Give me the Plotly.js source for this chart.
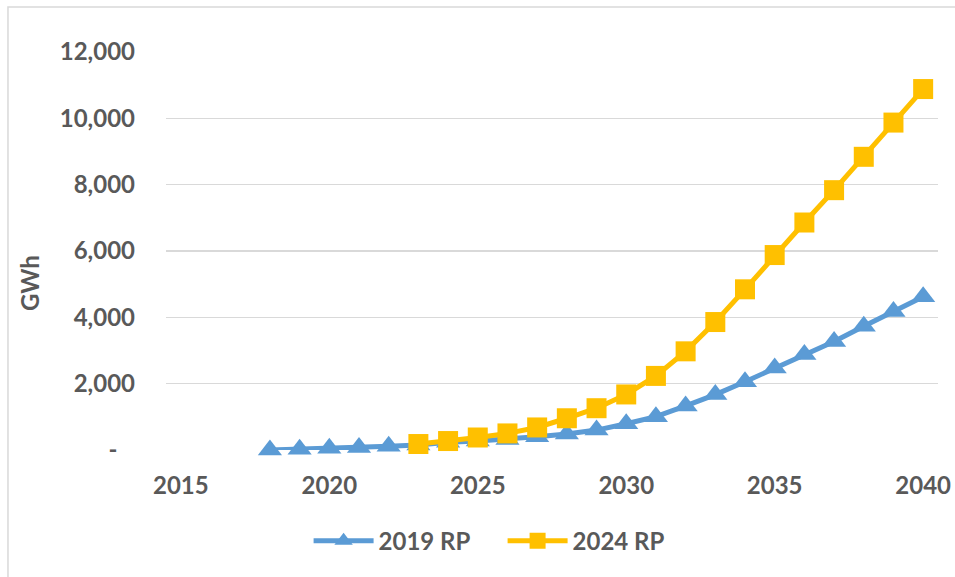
<!DOCTYPE html>
<html>
<head>
<meta charset="utf-8">
<script src="https://cdn.plot.ly/plotly-3.0.1.min.js"></script>
<style>
  html, body { margin: 0; padding: 0; background: #ffffff; }
  #chart { width: 955px; height: 577px; }
</style>
</head>
<body>
<div id="chart"></div>
<script>
// Annual energy (GWh) by year for the two resource plans
const years2019 = [2018, 2019, 2020, 2021, 2022, 2023, 2024, 2025, 2026, 2027, 2028,
                   2029, 2030, 2031, 2032, 2033, 2034, 2035, 2036, 2037, 2038, 2039, 2040];
const gwh2019 = [0, 20, 50, 75, 110, 150, 230, 270, 320, 400, 480,
                 600, 790, 1005, 1330, 1670, 2060, 2470, 2880, 3270, 3730, 4175, 4620];

const years2024 = [2023, 2024, 2025, 2026, 2027, 2028, 2029, 2030, 2031, 2032,
                   2033, 2034, 2035, 2036, 2037, 2038, 2039, 2040];
const gwh2024 = [180, 270, 377, 500, 680, 957, 1260, 1675, 2234, 2975,
                 3858, 4845, 5878, 6859, 7834, 8840, 9872, 10883];

const seriesNames = ['2019 RP', '2024 RP'];

const xTicks = [2015, 2020, 2025, 2030, 2035, 2040];
const yTicks = [0, 2000, 4000, 6000, 8000, 10000, 12000];
const yTickText = ['-\u00A0\u00A0\u00A0', '2,000', '4,000', '6,000', '8,000', '10,000', '12,000'];

const textColor = '#595959';
const fontFamily = 'Lato, "Open Sans", "Liberation Sans", sans-serif';

const traces = [
  {
    x: years2019, y: gwh2019, name: seriesNames[0],
    type: 'scatter', mode: 'lines+markers',
    line: { color: '#5B9BD5', width: 5 },
    marker: { symbol: 'triangle-up', size: 21, color: '#5B9BD5' },
    cliponaxis: false
  },
  {
    x: years2024, y: gwh2024, name: seriesNames[1],
    type: 'scatter', mode: 'lines+markers',
    line: { color: '#FFC000', width: 5 },
    marker: { symbol: 'square', size: 20, color: '#FFC000' },
    cliponaxis: false
  }
];

const layout = {
  width: 955, height: 577,
  margin: { l: 166, r: 17, t: 52, b: 127 },
  paper_bgcolor: '#ffffff', plot_bgcolor: '#ffffff',
  font: { family: fontFamily, color: textColor, size: 24, weight: 'bold' },
  showlegend: true,
  hovermode: false,
  xaxis: {
    range: [2014.5, 2040.5],
    tickvals: xTicks,
    ticktext: xTicks.map(String),
    showgrid: false, zeroline: false, showline: false,
    ticks: '', ticklabelstandoff: 19,
    tickfont: { family: fontFamily, size: 24, color: textColor, weight: 'bold' }
  },
  yaxis: {
    range: [0, 12000],
    tickvals: yTicks,
    ticktext: yTickText,
    showgrid: true, gridcolor: '#D9D9D9', gridwidth: 1.6,
    zeroline: false, showline: false,
    ticks: '', ticklabelstandoff: 30,
    tickfont: { family: fontFamily, size: 24, color: textColor, weight: 'bold' }
  },
  legend: {
    orientation: 'h',
    x: 0.436, xanchor: 'center',
    y: -0.229, yanchor: 'middle',
    itemwidth: 60,
    entrywidth: 119, entrywidthmode: 'pixels',
    font: { family: fontFamily, size: 24, color: textColor, weight: 'bold' },
    bgcolor: 'rgba(0,0,0,0)'
  },
  annotations: [
    {
      text: 'GWh', textangle: -90,
      xref: 'paper', yref: 'paper',
      x: -0.176, y: 0.42, xanchor: 'center', yanchor: 'middle',
      showarrow: false,
      font: { family: fontFamily, size: 24, color: textColor, weight: 'bold' }
    }
  ],
  shapes: [
    {
      type: 'rect', xref: 'paper', yref: 'paper',
      x0: -0.2047, x1: 1.05, y0: -0.4, y1: 1.113,
      line: { color: '#D9D9D9', width: 1.5 },
      fillcolor: 'rgba(0,0,0,0)', layer: 'below'
    }
  ]
};

Plotly.newPlot('chart', traces, layout, { displayModeBar: false, staticPlot: true });
</script>
</body>
</html>
